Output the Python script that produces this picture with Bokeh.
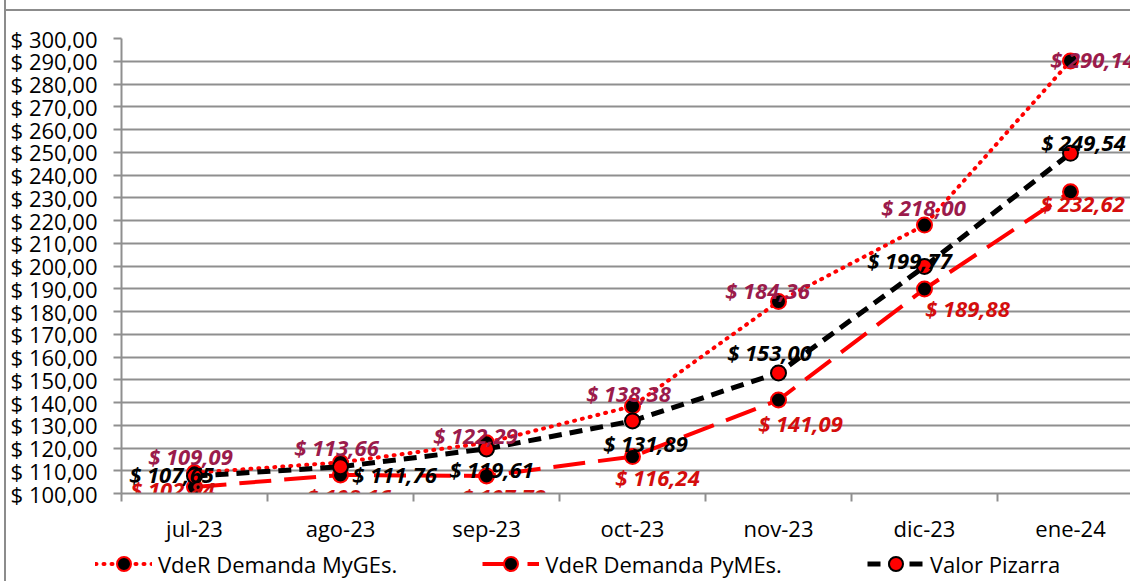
from bokeh.plotting import figure
from bokeh.layouts import column
from bokeh.models import (Range1d, FixedTicker, Legend, LegendItem, ColumnDataSource)
from bokeh.core.properties import value
from bokeh.embed import file_html
from bokeh.resources import INLINE

# ---------------- data ----------------
months = ["jul-23", "ago-23", "sep-23", "oct-23", "nov-23", "dic-23", "ene-24"]
myges = [109.09, 113.66, 122.29, 138.38, 184.36, 218.00, 290.14]
pymes = [102.84, 108.16, 107.72, 116.24, 141.09, 189.88, 232.62]
pizarra = [107.65, 111.76, 119.61, 131.89, 153.00, 199.77, 249.54]
y_ticks = list(range(100, 301, 10))
series_names = ["VdeR Demanda MyGEs.", "VdeR Demanda PyMEs.", "Valor Pizarra"]

# label offsets (screen px, layout only)
off_myges = [(-4, -17), (-4, -15), (-11, -8), (-4, -13), (-11, -12), (-1, -18), (22, -2)]
off_pymes = [(-22, 2), (8, 21), (17, 20), (25, 20), (22, 23), (43, 19), (12, 11)]
off_piz = [(-23, -2), (54, 7), (5, 20), (13, 22), (-9, -21), (-15, -7), (13, -11)]

def fmt(v):
    return "$ " + f"{v:.2f}".replace(".", ",")

# canvas origin in the page (after the css margin + border below)
OX, OY = 6, 11
W = 1130 - OX
H_MAIN = 537
LEFT, TOP = 121 - OX, 38 - OY
FRAME_H = 455
x = list(range(len(months)))
px_per_cat = 146
BORDER = "2px solid #8c8c8c"

p = figure(width=W, height=H_MAIN, output_backend="svg", toolbar_location=None,
           min_border_left=LEFT, min_border_top=TOP, min_border_right=0,
           min_border_bottom=H_MAIN - TOP - FRAME_H,
           x_range=Range1d(-0.5, -0.5 + (W - LEFT) / px_per_cat),
           y_range=Range1d(100, 300))
p.styles = {"border-top": BORDER, "margin-top": "9px"}
p.outline_line_color = None
p.background_fill_color = "white"
p.border_fill_color = "white"

GRID = "#8f8f8f"
AXIS_FONT = "Open Sans"

# y axis
p.yaxis.ticker = FixedTicker(ticks=y_ticks)
p.yaxis.major_label_overrides = {t: fmt(t) for t in y_ticks}
p.yaxis.axis_line_color = GRID
p.yaxis.axis_line_width = 2
p.yaxis.major_tick_line_color = GRID
p.yaxis.major_tick_line_width = 2
p.yaxis.major_tick_out = 8
p.yaxis.major_tick_in = 0
p.yaxis.minor_tick_line_color = None
p.yaxis.major_label_standoff = 16
p.yaxis.major_label_text_font = AXIS_FONT
p.yaxis.major_label_text_font_size = "22px"
p.yaxis.major_label_text_color = "black"

# x axis
p.xaxis.ticker = FixedTicker(ticks=x, minor_ticks=[i - 0.5 for i in range(len(months) + 1)])
p.xaxis.major_label_overrides = {i: m for i, m in enumerate(months)}
p.xaxis.axis_line_color = GRID
p.xaxis.axis_line_width = 2
p.xaxis.major_tick_line_color = None
p.xaxis.major_tick_out = 0
p.xaxis.major_tick_in = 0
p.xaxis.minor_tick_line_color = GRID
p.xaxis.minor_tick_line_width = 2
p.xaxis.minor_tick_out = 8
p.xaxis.minor_tick_in = 0
p.xaxis.major_label_standoff = 11
p.xaxis.major_label_text_font = AXIS_FONT
p.xaxis.major_label_text_font_size = "22px"
p.xaxis.major_label_text_color = "black"

p.xgrid.grid_line_color = None
p.ygrid.ticker = FixedTicker(ticks=y_ticks)
p.ygrid.grid_line_color = GRID
p.ygrid.grid_line_width = 2

RED = "#ff0000"
STYLES = [
    dict(line=dict(line_color=RED, line_width=4, line_dash="1 7", line_cap="round"),
         marker=dict(size=15, fill_color="black", line_color=RED, line_width=2)),
    dict(line=dict(line_color=RED, line_width=4, line_dash="32 13"),
         marker=dict(size=15, fill_color="black", line_color=RED, line_width=2)),
    dict(line=dict(line_color="black", line_width=5, line_dash="13 8"),
         marker=dict(size=15, fill_color=RED, line_color="black", line_width=2)),
]
all_series = [myges, pymes, pizarra]

for vals, st in zip(all_series, STYLES):
    p.line(x, vals, **st["line"])
    p.scatter(x, vals, **st["marker"])

# data labels
def labels(vals, offs, color):
    src = ColumnDataSource(dict(x=x, y=vals, t=[fmt(v) for v in vals],
                                dx=[o[0] for o in offs], dy=[o[1] for o in offs]))
    p.text(x="x", y="y", text="t", x_offset="dx", y_offset="dy", source=src,
           text_align="center", text_baseline="middle",
           text_font=value("Open Sans"), text_font_size="22px",
           text_font_style="bold italic", text_color=color)

labels(myges, off_myges, "#9b1b4b")
labels(pymes, off_pymes, "#d40d0d")
labels(pizarra, off_piz, "black")

# ---------------- legend strip ----------------
H_LEG = 35
SHIFT = -36   # css shift of the legend strip so its frame starts left of the main frame
lg = figure(width=W, height=H_LEG, output_backend="svg", toolbar_location=None,
            x_range=Range1d(1000, 1001), y_range=Range1d(1000, 1001),
            x_axis_location=None, y_axis_location=None,
            min_border=0, min_border_left=LEFT)
lg.styles = {"margin-left": f"{SHIFT}px"}
lg.outline_line_color = None
lg.background_fill_alpha = 0
lg.border_fill_alpha = 0
lg.xgrid.visible = False
lg.ygrid.visible = False
items = []
for name, vals, st in zip(series_names, all_series, STYLES):
    r1 = lg.line(x, vals, **st["line"])
    r2 = lg.scatter(x, vals, **st["marker"])
    items.append(LegendItem(label=name, renderers=[r1, r2]))

frame_left_page = OX + SHIFT + LEFT
legend = Legend(items=items, orientation="horizontal", location=(95 - frame_left_page, 0),
                spacing=85, glyph_width=57, glyph_height=35, label_standoff=6,
                padding=0, margin=0, border_line_color=None, background_fill_alpha=0,
                label_text_font=AXIS_FONT, label_text_font_size="22px",
                label_text_color="black")
lg.add_layout(legend, "center")

layout = column(p, lg, spacing=0)
layout.styles = {"border-left": BORDER, "margin-left": "4px"}
open("out.html", "w").write(file_html(layout, INLINE))
